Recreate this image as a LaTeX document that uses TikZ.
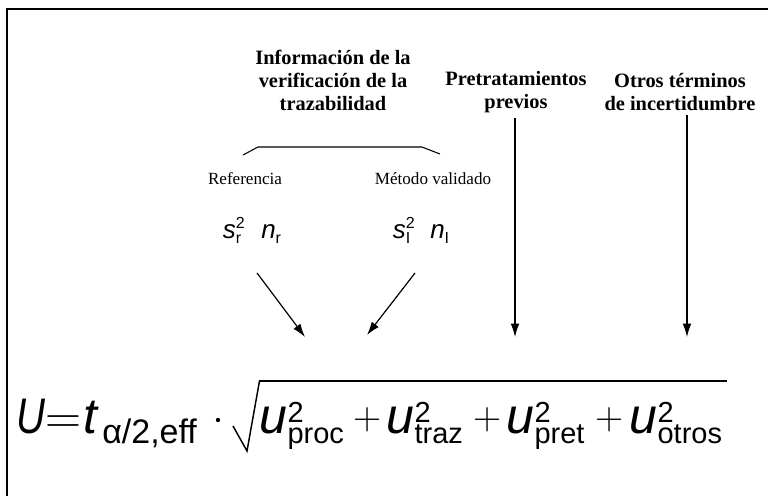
\documentclass[tikz,border=0pt]{standalone}
\usepackage{fontspec}
\setmainfont{Liberation Serif}
\newfontfamily\eqsans{Liberation Sans}
\newfontfamily\lmsym{Latin Modern Roman}
\usetikzlibrary{arrows.meta}

\newcommand\titlesize{\fontsize{15.3}{17.25}\selectfont}
\newcommand\smallsize{\fontsize{12.8}{15}\selectfont}
\newcommand\eqsize{\fontsize{37.5}{40}\selectfont}
\newcommand\eqscript{\fontsize{21.75}{24}\selectfont}
\newcommand\effscript{\fontsize{25.5}{27}\selectfont}
\newcommand\varsize{\fontsize{19.5}{22}\selectfont}
\newcommand\varscript{\fontsize{12}{14}\selectfont}
\newcommand\uterm[1]{{\itshape u}\rlap{\raisebox{8.25pt}{\eqscript 2}}\raisebox{-7.5pt}{\eqscript #1}}
\newcommand\svar[1]{{\itshape s}\rlap{\raisebox{7pt}{\varscript 2}}\raisebox{-3.75pt}{\varscript #1}\hspace{15pt}{\itshape n}\raisebox{-3.75pt}{\varscript #1}}

\tikzset{
  titlelbl/.style={inner sep=0pt, align=center, font=\bfseries\titlesize},
  smalllbl/.style={inner sep=0pt, font=\smallsize},
  eqtxt/.style={anchor=base west, inner sep=0pt, font=\eqsans\eqsize},
  eqscr/.style={anchor=base west, inner sep=0pt, font=\eqsans\effscript},
  eqplus/.style={anchor=base west, inner sep=0pt, font=\lmsym\fontsize{29.25}{30}\selectfont},
  arrowdn/.style={-{Latex[length=10pt,width=6.5pt]}, line width=0.9pt}
}

\begin{document}
\begin{tikzpicture}[x=0.75pt,y=0.75pt,yscale=-1,xscale=1]
\useasboundingbox (0,0) rectangle (768,496);

%Frame
\draw [line width=1.3pt]  (7,496) -- (7,9) -- (768,9) ;

% Text Node
\draw (333,80) node (info) [titlelbl] {Información de la\\verificación de la\\trazabilidad};
% Text Node
\draw (516,92) node (pret) [titlelbl] {Pretratamientos\\previos};
% Text Node
\draw (680,92) node (otros) [titlelbl] {Otros términos\\de incertidumbre};
% Text Node
\draw (245,179) node (ref) [smalllbl] {Referencia};
% Text Node
\draw (433,179) node (metodo) [smalllbl] {Método validado};

%Straight Lines
\draw [line width=0.8pt]  (243,155) -- (258,147) -- (422,147) -- (440,154) ;

% Text Node
\draw (252,238) node (sr) [anchor=base, inner sep=0pt, font=\eqsans\varsize] {\svar{r}};
% Text Node
\draw (421,238) node (sI) [anchor=base, inner sep=0pt, font=\eqsans\varsize] {\svar{I}};

% Formula
\draw (16,433) node (eqU) [eqtxt] {\scalebox{0.8}[1]{\itshape U}};
\draw (45,433) node (eqEq) [eqtxt, font=\lmsym\eqsize] {=};
\draw (83,433) node (eqt) [eqtxt] {\itshape t};
\draw (102,443) node (eqsub) [eqscr] {α/2,eff};
\fill (218,420) circle (2.2) ;
%Shape: Radical
\draw [line width=1.1pt, line join=miter]  (233,426) -- (247,451) -- (259.5,381) ;
\draw [line width=2pt]  (258.5,381) -- (727,381) ;
\draw (259.5,433) node (uproc) [eqtxt] {\uterm{proc}};
\draw (353,429) node (plusA) [eqplus] {+};
\draw (386.5,433) node (utraz) [eqtxt] {\uterm{traz}};
\draw (473,429) node (plusB) [eqplus] {+};
\draw (506.5,433) node (upret) [eqtxt] {\uterm{pret}};
\draw (595,429) node (plusC) [eqplus] {+};
\draw (629.5,433) node (uotros) [eqtxt] {\uterm{otros}};

%Arrows
\coordinate (srA) at (257,273) ;
\coordinate (srB) at (305,337) ;
\coordinate (sIA) at (415,273) ;
\coordinate (sIB) at (367,335) ;
\coordinate (pretA) at (515,118) ;
\coordinate (pretB) at (515,337) ;
\coordinate (otrosA) at (687,115) ;
\coordinate (otrosB) at (687,337) ;
\draw [arrowdn]  (srA) -- (srB) ;
\draw [arrowdn]  (sIA) -- (sIB) ;
\draw [arrowdn]  (pretA) -- (pretB) ;
\draw [arrowdn]  (otrosA) -- (otrosB) ;

\end{tikzpicture}
\end{document}
